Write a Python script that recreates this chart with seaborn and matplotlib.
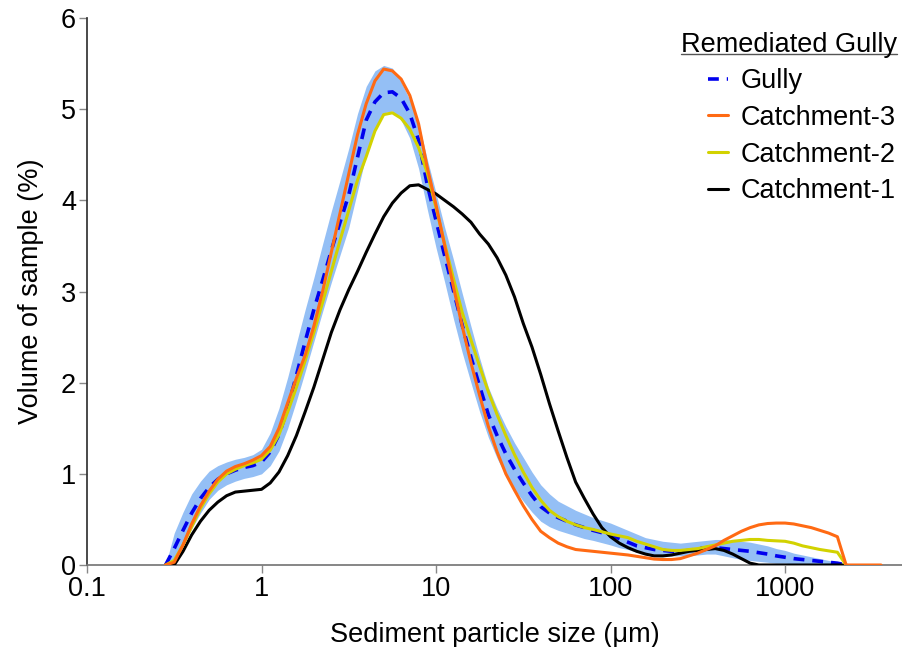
import numpy as np
import pandas as pd
import matplotlib
matplotlib.use('Agg')
import matplotlib.pyplot as plt
import seaborn as sns
from matplotlib.lines import Line2D

# particle size classes (um), 20 classes per decade
size = [0.282, 0.316, 0.355, 0.398, 0.447, 0.501, 0.562, 0.631, 0.708, 0.794,
        0.891, 1.0, 1.122, 1.259, 1.413, 1.585, 1.778, 1.995, 2.239, 2.512,
        2.818, 3.162, 3.548, 3.981, 4.467, 5.012, 5.623, 6.31, 7.079, 7.943,
        8.913, 10.0, 11.22, 12.59, 14.13, 15.85, 17.78, 19.95, 22.39, 25.12,
        28.18, 31.62, 35.48, 39.81, 44.67, 50.12, 56.23, 63.1, 70.79, 79.43,
        89.13, 100.0, 112.2, 125.9, 141.3, 158.5, 177.8, 199.5, 223.9, 251.2,
        281.8, 316.2, 354.8, 398.1, 446.7, 501.2, 562.3, 631.0, 707.9, 794.3,
        891.3, 1000.0, 1122.0, 1259.0, 1413.0, 1585.0, 1778.0, 1995.0, 2239.0, 2512.0,
        2818.0, 3162.0, 3548.0]

nan = np.nan
gully = [0.0, 0.18, 0.38, 0.57, 0.73, 0.85, 0.94, 1.0, 1.04, 1.07,
         1.09, 1.13, 1.24, 1.43, 1.72, 2.08, 2.45, 2.8, 3.12, 3.45,
         3.76, 4.06, 4.47, 4.88, 5.08, 5.18, 5.19, 5.12, 4.95, 4.66,
         4.17, 3.78, 3.39, 3.01, 2.63, 2.28, 1.96, 1.65, 1.42, 1.22,
         1.05, 0.9, 0.76, 0.64, 0.57, 0.52, 0.48, 0.44, 0.41, 0.38,
         0.355, 0.33, 0.29, 0.25, 0.21, 0.19, 0.17, 0.16, 0.15, 0.15,
         0.16, 0.18, 0.19, 0.19, 0.18, 0.17, 0.16, 0.15, 0.135, 0.12,
         0.1, 0.085, 0.07, 0.06, 0.05, 0.04, 0.03, 0.02, 0.0, nan,
         nan, nan, nan]
gully_lo = [0.0, 0.05, 0.22, 0.4, 0.57, 0.72, 0.82, 0.88, 0.92, 0.95,
            0.97, 1.0, 1.09, 1.25, 1.5, 1.8, 2.12, 2.45, 2.78, 3.1,
            3.4, 3.7, 4.1, 4.5, 4.78, 4.96, 4.98, 4.88, 4.68, 4.35,
            3.9, 3.48, 3.1, 2.7, 2.33, 2.0, 1.68, 1.4, 1.17, 0.98,
            0.83, 0.7, 0.58, 0.48, 0.42, 0.38, 0.35, 0.32, 0.29, 0.27,
            0.245, 0.22, 0.19, 0.17, 0.14, 0.12, 0.11, 0.1, 0.1, 0.1,
            0.1, 0.11, 0.12, 0.12, 0.1, 0.08, 0.06, 0.05, 0.04, 0.03,
            0.02, 0.02, 0.01, 0.01, 0.0, 0.0, 0.0, 0.0, 0.0, nan,
            nan, nan, nan]
gully_hi = [0.0, 0.35, 0.58, 0.78, 0.92, 1.03, 1.09, 1.13, 1.16, 1.18,
            1.21, 1.27, 1.45, 1.72, 2.06, 2.43, 2.8, 3.15, 3.52, 3.88,
            4.22, 4.57, 4.95, 5.25, 5.42, 5.48, 5.45, 5.3, 5.1, 4.85,
            4.45, 4.08, 3.7, 3.35, 2.98, 2.62, 2.27, 1.95, 1.72, 1.52,
            1.34, 1.18, 1.02, 0.88, 0.78, 0.7, 0.65, 0.6, 0.56, 0.52,
            0.49, 0.46, 0.42, 0.38, 0.34, 0.3, 0.28, 0.26, 0.25, 0.24,
            0.25, 0.26, 0.27, 0.28, 0.28, 0.27, 0.26, 0.25, 0.23, 0.21,
            0.18, 0.16, 0.13, 0.11, 0.09, 0.07, 0.05, 0.03, 0.0, nan,
            nan, nan, nan]
catch3 = [0.0, 0.03, 0.22, 0.45, 0.65, 0.81, 0.94, 1.03, 1.08, 1.11,
          1.15, 1.2, 1.3, 1.5, 1.78, 2.05, 2.3, 2.62, 3.0, 3.43,
          3.86, 4.29, 4.72, 5.06, 5.31, 5.44, 5.42, 5.33, 5.15, 4.84,
          4.36, 3.95, 3.5, 3.05, 2.62, 2.22, 1.86, 1.52, 1.24, 1.0,
          0.82, 0.65, 0.5, 0.37, 0.3, 0.24, 0.2, 0.17, 0.16, 0.15,
          0.14, 0.13, 0.12, 0.11, 0.095, 0.08, 0.065, 0.06, 0.06, 0.07,
          0.1, 0.13, 0.17, 0.21, 0.27, 0.32, 0.37, 0.41, 0.44, 0.455,
          0.46, 0.46, 0.45, 0.43, 0.41, 0.38, 0.35, 0.31, 0.0, 0.0,
          0.0, 0.0, 0.0]
catch2 = [0.0, 0.05, 0.22, 0.42, 0.62, 0.78, 0.91, 1.0, 1.05, 1.09,
          1.12, 1.16, 1.26, 1.43, 1.68, 1.95, 2.24, 2.55, 2.88, 3.22,
          3.56, 3.89, 4.22, 4.48, 4.76, 4.94, 4.96, 4.9, 4.78, 4.58,
          4.3, 3.92, 3.52, 3.14, 2.77, 2.47, 2.18, 1.9, 1.65, 1.42,
          1.21, 1.02, 0.85, 0.71, 0.6, 0.53, 0.48, 0.44, 0.41, 0.39,
          0.365, 0.34, 0.32, 0.3, 0.26, 0.23, 0.2, 0.17, 0.16, 0.16,
          0.17, 0.18, 0.2, 0.22, 0.24, 0.26, 0.27, 0.28, 0.28, 0.27,
          0.265, 0.26, 0.24, 0.21, 0.19, 0.17, 0.155, 0.14, 0.0, nan,
          nan, nan, nan]
catch1 = [0.0, 0.0, 0.15, 0.33, 0.48, 0.6, 0.69, 0.76, 0.8, 0.81,
          0.82, 0.83, 0.9, 1.02, 1.2, 1.42, 1.68, 1.95, 2.25, 2.55,
          2.8, 3.02, 3.22, 3.43, 3.63, 3.82, 3.97, 4.08, 4.16, 4.17,
          4.12, 4.07, 4.0, 3.93, 3.85, 3.76, 3.63, 3.52, 3.37, 3.18,
          2.94, 2.65, 2.39, 2.09, 1.77, 1.47, 1.18, 0.91, 0.73, 0.56,
          0.41, 0.31, 0.24, 0.19, 0.15, 0.12, 0.1, 0.1, 0.11, 0.13,
          0.15, 0.16, 0.17, 0.18, 0.16, 0.12, 0.07, 0.02, 0.0, 0.0,
          0.0, 0.0, 0.0, 0.0, 0.0, 0.0, 0.0, 0.0, 0.0, nan,
          nan, nan, nan]

df = pd.DataFrame({'size': size, 'Gully': gully, 'lo': gully_lo, 'hi': gully_hi,
                   'Catchment-3': catch3, 'Catchment-2': catch2, 'Catchment-1': catch1})

sns.set_theme(style='ticks')
plt.rcParams['font.family'] = ['Liberation Sans', 'DejaVu Sans']
plt.rcParams['text.color'] = 'black'
plt.rcParams['axes.labelcolor'] = 'black'

W, H = 902, 647
fig = plt.figure(figsize=(W / 100, H / 100), dpi=100)
ax = fig.add_axes([87 / W, 1 - 565 / H, 1 - 87 / W, (565 - 18) / H])

# envelope around the gully samples
ax.fill_between(df['size'], df['lo'], df['hi'], color='#94BFF5', lw=0, zorder=1)
sns.lineplot(data=df, x='size', y='Gully', ax=ax, color='#0000EE', lw=2.6, zorder=2)
ax.lines[-1].set_dashes([3, 2.2])
sns.lineplot(data=df, x='size', y='Catchment-1', ax=ax, color='black', lw=2.2, zorder=3)
sns.lineplot(data=df, x='size', y='Catchment-2', ax=ax, color='#D2D200', lw=2.2, zorder=4)
sns.lineplot(data=df, x='size', y='Catchment-3', ax=ax, color='#FF6A13', lw=2.2, zorder=5)

ax.set_xscale('log')
ax.set_xlim(0.1, 4680)
ax.set_ylim(0, 6)
ax.set_xticks([0.1, 1, 10, 100, 1000])
ax.set_xticklabels(['0.1', '1', '10', '100', '1000'])
ax.minorticks_off()
ax.set_yticks(range(7))
ax.tick_params(labelsize=19.5, length=6, width=1, color='#888888', labelcolor='black', pad=2)
ax.set_xlabel('Sediment particle size (\u03bcm)', fontsize=19.5, labelpad=14)
ax.set_ylabel('Volume of sample (%)', fontsize=19.5, labelpad=12)
sns.despine(ax=ax)
ax.spines['left'].set_color('#333333')
ax.spines['bottom'].set_color('#777777')
ax.set_facecolor('white')

handles = [Line2D([], [], color='#0000EE', lw=2.6, dashes=[3, 2.2]),
           Line2D([], [], color='#FF6A13', lw=2.2),
           Line2D([], [], color='#D2D200', lw=2.2),
           Line2D([], [], color='black', lw=2.2)]
leg = fig.legend(handles, ['Gully', 'Catchment-3', 'Catchment-2', 'Catchment-1'],
                 loc='upper left', bbox_to_anchor=(708 / W, 1 - 68 / H),
                 frameon=False, fontsize=19.5, handlelength=0.75,
                 handletextpad=0.45, labelspacing=0.4, borderpad=0, borderaxespad=0)

title = fig.text(681 / W, 1 - 45 / H, 'Remediated Gully', fontsize=19.5,
                 ha='left', va='center')
fig.canvas.draw()
bb = title.get_window_extent().transformed(fig.transFigure.inverted())
uy = 1 - 54 / H
fig.add_artist(Line2D([bb.x0, bb.x1], [uy, uy], color='#555555', lw=1,
                      transform=fig.transFigure))

fig.savefig('out.png', dpi=100)
